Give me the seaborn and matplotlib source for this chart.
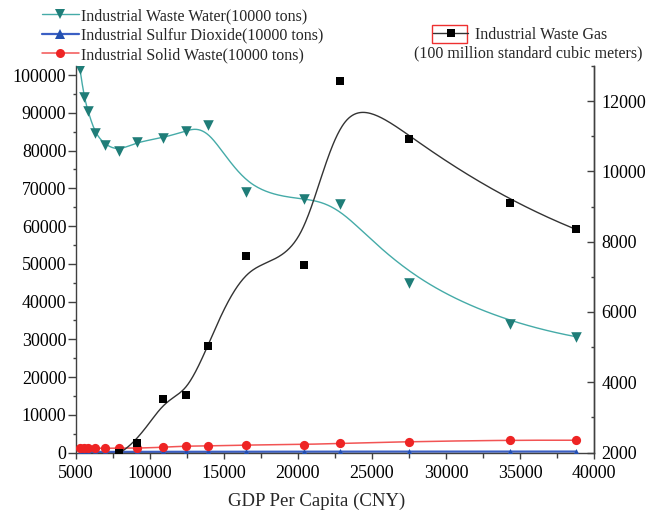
import numpy as np
import matplotlib
matplotlib.use("Agg")
import matplotlib.pyplot as plt
from matplotlib.lines import Line2D
from matplotlib.patches import Rectangle
from matplotlib.ticker import MultipleLocator
import seaborn as sns

# GDP per capita (CNY)
gdp = [5270, 5540, 5810, 6280, 6960, 7900, 9120, 10850, 12400, 13920,
       16500, 20400, 22850, 27500, 34350, 38780]

# Left axis series (10000 tons)
waste_water = [101500, 94200, 90500, 84600, 81500, 79900, 82300, 83300, 85200, 86800,
               69000, 67200, 65800, 45000, 33960, 30680]
sulfur_dioxide = [150, 150, 160, 160, 160, 170, 170, 180, 190, 200,
                  210, 220, 230, 240, 250, 250]
solid_waste = [1100, 1150, 1300, 1150, 1100, 1200, 1150, 1370, 1720, 1720,
               2000, 2100, 2450, 2870, 3300, 3250]

# Right axis series (100 million standard cubic meters)
gas_gdp = [7900, 9120, 10850, 12400, 13920, 16500, 20400, 22850, 27500, 34350, 38780]
waste_gas = [1980, 2270, 3520, 3640, 5030, 7590, 7330, 12570, 10930, 9107, 8350]

x_ticks = [5000, 10000, 15000, 20000, 25000, 30000, 35000, 40000]
left_ticks = list(range(0, 100001, 10000))
right_ticks = [2000, 4000, 6000, 8000, 10000, 12000]


def bspline_curve(xs, ys, degree=3, n_out=500):
    """Clamped uniform B-spline using the data points as control points."""
    P = np.column_stack([xs, ys]).astype(float)
    n = len(P)
    k = min(degree, n - 1)
    knots = np.concatenate([np.zeros(k), np.linspace(0, 1, n - k + 1), np.ones(k)])
    t = np.linspace(0, 1, n_out)
    nk = len(knots)
    B = np.zeros((n_out, nk - 1))
    for i in range(nk - 1):
        B[:, i] = (knots[i] <= t) & (t < knots[i + 1])
    last = np.max(np.nonzero(knots[:-1] < knots[1:])[0])
    B[t >= knots[-1], last] = 1.0
    for d in range(1, k + 1):
        Bn = np.zeros((n_out, nk - 1 - d))
        for i in range(nk - 1 - d):
            val = np.zeros(n_out)
            den1 = knots[i + d] - knots[i]
            if den1 > 0:
                val += (t - knots[i]) / den1 * B[:, i]
            den2 = knots[i + d + 1] - knots[i + 1]
            if den2 > 0:
                val += (knots[i + d + 1] - t) / den2 * B[:, i + 1]
            Bn[:, i] = val
        B = Bn
    C = B @ P
    return C[:, 0], C[:, 1]


sns.set_theme(style="ticks")
plt.rcParams["font.family"] = ["Liberation Serif", "DejaVu Serif"]
plt.rcParams["axes.edgecolor"] = "#404040"
plt.rcParams["axes.linewidth"] = 1.0

W, H = 656, 512
fig = plt.figure(figsize=(W / 100, H / 100), dpi=100)
ax = fig.add_axes([76 / W, 1 - 452.5 / H, (594 - 76) / W, (452.5 - 66) / H])
ax2 = ax.twinx()

teal_line, teal_mk = "#45aba8", "#1f7d78"
blue_line, blue_mk = "#3b5fc4", "#2450b0"
red_line, red_mk = "#f25454", "#ee2424"
black_line = "#333333"

# Left-axis series: smooth curve + markers
series = [
    (waste_water, teal_line, teal_mk, "v", 58, 1.0),
    (sulfur_dioxide, blue_line, blue_mk, "^", 26, 1.6),
    (solid_waste, red_line, red_mk, "o", 44, 1.1),
]
for vals, lc, mc, mk, ms, lw in series:
    cx, cy = bspline_curve(gdp, vals)
    sns.lineplot(x=cx, y=cy, ax=ax, color=lc, linewidth=lw, sort=False,
                 estimator=None, legend=False)
for vals, lc, mc, mk, ms, lw in [series[1], series[2], series[0]]:
    sns.scatterplot(x=gdp, y=vals, ax=ax, color=mc, marker=mk, s=ms,
                    linewidth=0, legend=False, zorder=4)

# Right-axis series
gx, gy = bspline_curve(gas_gdp, waste_gas)
sns.lineplot(x=gx, y=gy, ax=ax2, color=black_line, linewidth=1.0, sort=False,
             estimator=None, legend=False)
sns.scatterplot(x=gas_gdp, y=waste_gas, ax=ax2, color="black", marker="s", s=40,
                linewidth=0, legend=False, zorder=4)

# Axes limits and ticks
ax.set_xlim(5000, 40000)
ax.set_ylim(0, 102400)
ax2.set_ylim(2000, 13000)
ax.set_xticks(x_ticks)
ax.set_yticks(left_ticks)
ax2.set_yticks(right_ticks)
ax.xaxis.set_minor_locator(MultipleLocator(2500))
ax.yaxis.set_minor_locator(MultipleLocator(5000))
ax2.yaxis.set_minor_locator(MultipleLocator(1000))

for a in (ax, ax2):
    a.spines["top"].set_visible(False)
    a.set_ylabel("")
ax2.spines["left"].set_visible(False)
ax2.spines["bottom"].set_visible(False)

ax.tick_params(axis="x", which="major", direction="out", length=4, width=1,
               color="#404040", labelsize=13, pad=5, labelcolor="black")
ax.tick_params(axis="x", which="minor", direction="out", length=3.5, width=1, color="#404040")
ax.tick_params(axis="y", which="major", direction="out", length=5.5, width=1,
               color="#404040", labelsize=13, pad=1.5, labelcolor="black")
ax.tick_params(axis="y", which="minor", direction="out", length=2.5, width=1, color="#404040")
ax2.tick_params(axis="y", which="major", direction="in", length=5, width=1,
                color="#404040", labelsize=13, pad=5.5, labelcolor="black")
ax2.tick_params(axis="y", which="minor", direction="in", length=2.5, width=1, color="#404040")

ax.set_xlabel("GDP Per Capita (CNY)", fontsize=13.5)
ax.xaxis.set_label_coords((317 - 76) / (594 - 76), -(501 - 452.5) / (452.5 - 66))
ax.xaxis.label.set_va("center")

# Legends
left_handles = [
    Line2D([], [], color=teal_line, lw=1.0, marker="v", markersize=7.5,
           markerfacecolor=teal_mk, markeredgewidth=0),
    Line2D([], [], color=blue_line, lw=1.6, marker="^", markersize=7,
           markerfacecolor=blue_mk, markeredgewidth=0),
    Line2D([], [], color=red_line, lw=1.1, marker="o", markersize=6.5,
           markerfacecolor=red_mk, markeredgewidth=0),
]
left_labels = ["Industrial Waste Water(10000 tons)",
               "Industrial Sulfur Dioxide(10000 tons)",
               "Industrial Solid Waste(10000 tons)"]
fig.legend(left_handles, left_labels, loc="upper left",
           bbox_to_anchor=(42 / W, 1 - 8 / H), frameon=False, fontsize=11.5,
           handlelength=2.3, handletextpad=0.15, labelspacing=0.22,
           borderpad=0, borderaxespad=0, numpoints=1)

gas_handle = Line2D([], [], color=black_line, lw=1.0, marker="s", markersize=6,
                    markerfacecolor="black", markeredgewidth=0)
fig.legend([gas_handle], ["Industrial Waste Gas"], loc="upper left",
           bbox_to_anchor=(433 / W, 1 - 27 / H), frameon=False, fontsize=11.5,
           handlelength=2.2, handletextpad=0.4, borderpad=0, borderaxespad=0,
           numpoints=1)
fig.text(528 / W, 1 - 53 / H, "(100 million standard cubic meters)",
         ha="center", va="center", fontsize=11.5)
fig.add_artist(Rectangle((432 / W, 1 - 43 / H), 35 / W, 18 / H,
                         transform=fig.transFigure, fill=False,
                         edgecolor="#ee3030", linewidth=1.0))

fig.savefig("out.png", dpi=100)
